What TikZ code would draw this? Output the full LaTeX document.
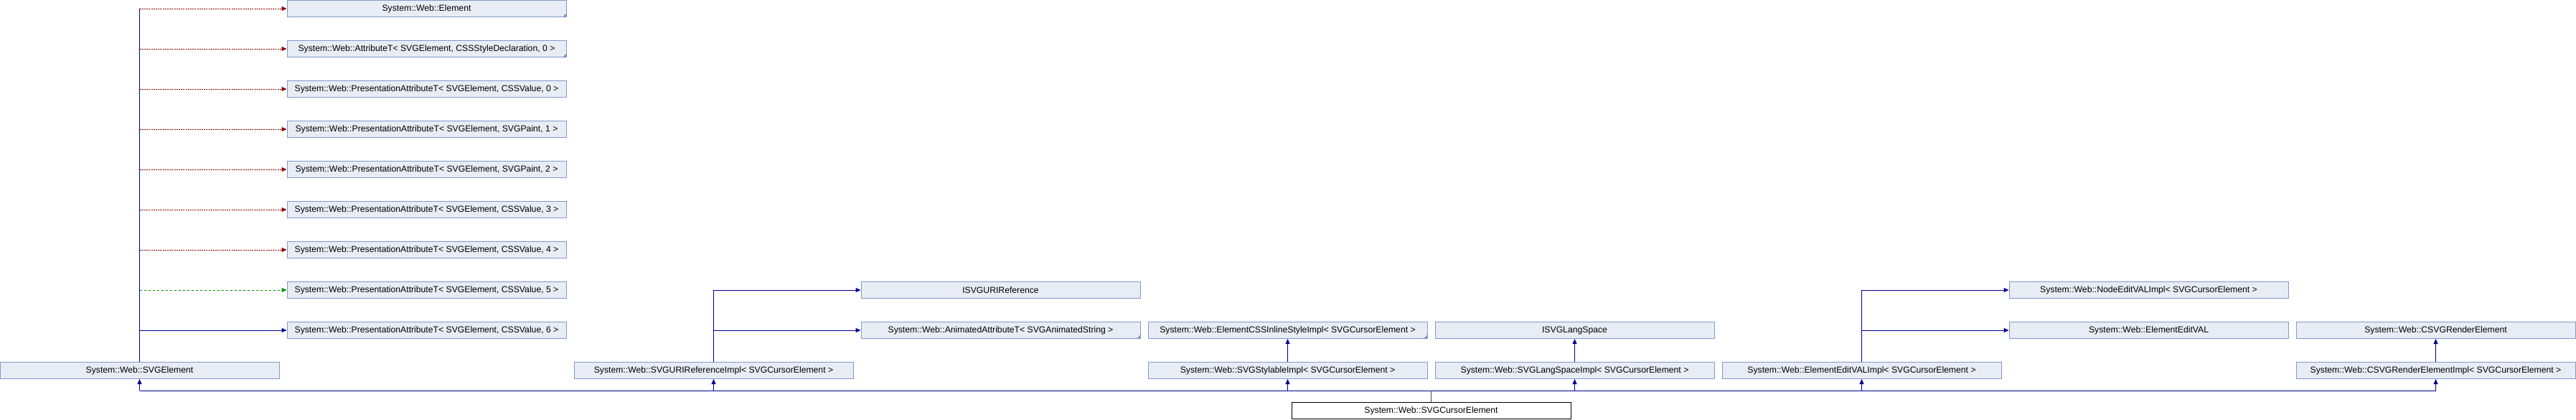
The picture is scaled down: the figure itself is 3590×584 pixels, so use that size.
\documentclass[tikz,border=0pt]{standalone}
\usepackage{fontspec}
\setmainfont{Liberation Sans}
\usetikzlibrary{arrows.meta}
\definecolor{fillc}{HTML}{E8ECF4}
\definecolor{bordc}{HTML}{8099CC}
\definecolor{pubc}{HTML}{00008F}
\definecolor{privc}{HTML}{8B0000}
\definecolor{protc}{HTML}{009900}
\tikzset{
  cls/.style={draw=bordc, fill=fillc, line width=0.5pt, minimum width=194.5pt, minimum height=11.5pt, inner sep=0pt, font=\fontsize{6.1}{7}\selectfont},
  cur/.style={cls, draw=black, fill=white},
  tip/.style={-{Triangle[length=3.5pt,width=3pt]}},
  pub/.style={draw=pubc, line width=0.5pt},
  priv/.style={draw=privc, line width=0.5pt, dash pattern=on 1pt off 0.6pt},
  prot/.style={draw=protc, line width=0.5pt, dash pattern=on 1.6pt off 1.4pt},
}
\newcommand{\trunc}[1]{\fill[bordc] (#1.south east) -- ++(-6,0) -- ++(6,-6) -- cycle;}
\begin{document}
\begin{tikzpicture}[x=0.5pt,y=-0.5pt]
\useasboundingbox (0,0) rectangle (3590,584);
% column 1 (bases of SVGElement)
\node[cls] (el) at (594.5,12) {System::Web::Element};
\node[cls] (attr) at (594.5,68) {System::Web::AttributeT< SVGElement, CSSStyleDeclaration, 0 >};
\node[cls] (p0) at (594.5,124) {System::Web::PresentationAttributeT< SVGElement, CSSValue, 0 >};
\node[cls] (p1) at (594.5,180) {System::Web::PresentationAttributeT< SVGElement, SVGPaint, 1 >};
\node[cls] (p2) at (594.5,236) {System::Web::PresentationAttributeT< SVGElement, SVGPaint, 2 >};
\node[cls] (p3) at (594.5,292) {System::Web::PresentationAttributeT< SVGElement, CSSValue, 3 >};
\node[cls] (p4) at (594.5,348) {System::Web::PresentationAttributeT< SVGElement, CSSValue, 4 >};
\node[cls] (p5) at (594.5,404) {System::Web::PresentationAttributeT< SVGElement, CSSValue, 5 >};
\node[cls] (p6) at (594.5,460) {System::Web::PresentationAttributeT< SVGElement, CSSValue, 6 >};
\trunc{el}
\trunc{attr}
% row 7/8 bases
\node[cls] (isvguri) at (1394.5,404) {ISVGURIReference};
\node[cls] (anim) at (1394.5,460) {System::Web::AnimatedAttributeT< SVGAnimatedString >};
\trunc{anim}
\node[cls] (cssinl) at (1794.5,460) {System::Web::ElementCSSInlineStyleImpl< SVGCursorElement >};
\trunc{cssinl}
\node[cls] (isvglang) at (2194.5,460) {ISVGLangSpace};
\node[cls] (nodeedit) at (2994.5,404) {System::Web::NodeEditVALImpl< SVGCursorElement >};
\node[cls] (eledit) at (2994.5,460) {System::Web::ElementEditVAL};
\node[cls] (render) at (3394.5,460) {System::Web::CSVGRenderElement};
% row 9
\node[cls] (svgel) at (194.5,516) {System::Web::SVGElement};
\node[cls] (uriimpl) at (994.5,516) {System::Web::SVGURIReferenceImpl< SVGCursorElement >};
\node[cls] (stylimpl) at (1794.5,516) {System::Web::SVGStylableImpl< SVGCursorElement >};
\node[cls] (langimpl) at (2194.5,516) {System::Web::SVGLangSpaceImpl< SVGCursorElement >};
\node[cls] (editimpl) at (2594.5,516) {System::Web::ElementEditVALImpl< SVGCursorElement >};
\node[cls] (renderimpl) at (3394.5,516) {System::Web::CSVGRenderElementImpl< SVGCursorElement >};
% row 10
\node[cur] (cursor) at (1994.5,572) {System::Web::SVGCursorElement};
% SVGElement trunk and branches
\draw[pub] (svgel.north) -- (svgel.north |- el.west);
\draw[priv,tip] (svgel.north |- el.west) -- (el.west);
\draw[priv,tip] (svgel.north |- attr.west) -- (attr.west);
\draw[priv,tip] (svgel.north |- p0.west) -- (p0.west);
\draw[priv,tip] (svgel.north |- p1.west) -- (p1.west);
\draw[priv,tip] (svgel.north |- p2.west) -- (p2.west);
\draw[priv,tip] (svgel.north |- p3.west) -- (p3.west);
\draw[priv,tip] (svgel.north |- p4.west) -- (p4.west);
\draw[prot,tip] (svgel.north |- p5.west) -- (p5.west);
\draw[pub,tip] (svgel.north |- p6.west) -- (p6.west);
% SVGURIReferenceImpl
\draw[pub] (uriimpl.north) -- (uriimpl.north |- isvguri.west);
\draw[pub,tip] (uriimpl.north |- isvguri.west) -- (isvguri.west);
\draw[pub,tip] (uriimpl.north |- anim.west) -- (anim.west);
% Stylable / LangSpace
\draw[pub,tip] (stylimpl.north) -- (cssinl.south);
\draw[pub,tip] (langimpl.north) -- (isvglang.south);
% ElementEditVALImpl
\draw[pub] (editimpl.north) -- (editimpl.north |- nodeedit.west);
\draw[pub,tip] (editimpl.north |- nodeedit.west) -- (nodeedit.west);
\draw[pub,tip] (editimpl.north |- eledit.west) -- (eledit.west);
% Render
\draw[pub,tip] (renderimpl.north) -- (render.south);
% bus
\coordinate (bus) at (1994.5,544);
\draw[pub] (bus -| svgel) -- (bus -| renderimpl);
\draw[pub,tip] (bus -| svgel) -- (svgel.south);
\draw[pub,tip] (bus -| uriimpl) -- (uriimpl.south);
\draw[pub,tip] (bus -| stylimpl) -- (stylimpl.south);
\draw[pub,tip] (bus -| langimpl) -- (langimpl.south);
\draw[pub,tip] (bus -| editimpl) -- (editimpl.south);
\draw[pub,tip] (bus -| renderimpl) -- (renderimpl.south);
\draw[draw=black!70, line width=0.4pt] (cursor.north) -- (bus);
\end{tikzpicture}
\end{document}
